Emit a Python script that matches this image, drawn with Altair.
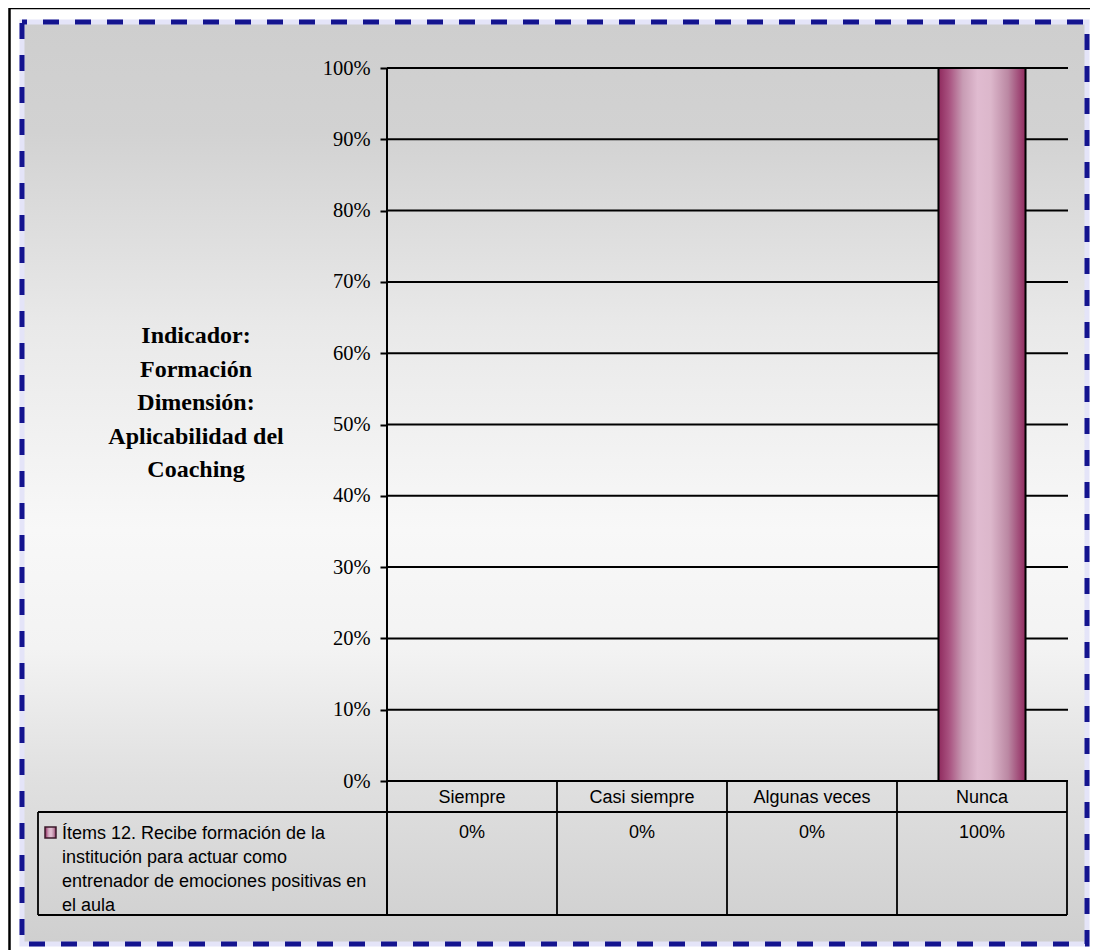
import altair as alt
import pandas as pd

# ---- data ----
categories = ["Siempre", "Casi siempre", "Algunas veces", "Nunca"]
values = [0, 0, 0, 100]
value_labels = ["0%", "0%", "0%", "100%"]
y_ticks = [0, 10, 20, 30, 40, 50, 60, 70, 80, 90, 100]
title_lines = ["Indicador:", "Formación", "Dimensión:", "Aplicabilidad del", "Coaching"]
legend_lines = [
    "Ítems 12. Recibe formación de la",
    "institución para actuar como",
    "entrenador de emociones positivas en",
    "el aula",
]

df = pd.DataFrame({"cat": categories, "pct": [v / 100 for v in values], "label": value_labels})
ticks_df = pd.DataFrame({"t": [t / 100 for t in y_ticks]})
one = pd.DataFrame({"k": [0]})

W, H = 680, 713

bar_grad = {
    "gradient": "linear", "x1": 0, "x2": 1, "y1": 0, "y2": 0,
    "stops": [
        {"offset": 0.0, "color": "#8f2a5e"},
        {"offset": 0.12, "color": "#a8517f"},
        {"offset": 0.28, "color": "#c89cb4"},
        {"offset": 0.45, "color": "#e0bbd0"},
        {"offset": 0.6, "color": "#dcb7cb"},
        {"offset": 0.8, "color": "#bb88a3"},
        {"offset": 0.93, "color": "#a04a77"},
        {"offset": 1.0, "color": "#8f2b5e"},
    ],
}
bg_grad = {
    "gradient": "linear", "x1": 0, "x2": 0, "y1": 0, "y2": 1,
    "stops": [
        {"offset": 0.0, "color": "#cecece"},
        {"offset": 0.12, "color": "#d2d2d2"},
        {"offset": 0.33, "color": "#e9e9e9"},
        {"offset": 0.55, "color": "#f8f8f8"},
        {"offset": 0.68, "color": "#f3f3f3"},
        {"offset": 0.82, "color": "#e0e0e0"},
        {"offset": 1.0, "color": "#cfcfcf"},
    ],
}

x_scale = alt.Scale(domain=categories, paddingInner=0, paddingOuter=0)
y_scale = alt.Scale(domain=[0, 1], nice=False)
y_axis = alt.Axis(
    values=[t / 100 for t in y_ticks], format=".0%", grid=False, domain=False,
    ticks=True, tickColor="black", tickSize=7, tickWidth=2,
    labelFont="Liberation Serif", labelFontSize=20.5, labelColor="black",
    labelPadding=10, title=None, zindex=1, labelOverlap=False,
)


def rect(x, x2, y, y2, **mk):
    return alt.Chart(one).mark_rect(**mk).encode(
        x=alt.value(x), x2=alt.value(x2), y=alt.value(y), y2=alt.value(y2))


def rule(x, x2, y, y2, w=1.8):
    return alt.Chart(one).mark_rule(color="black", strokeWidth=w).encode(
        x=alt.value(x), x2=alt.value(x2), y=alt.value(y), y2=alt.value(y2))


frame = rect(-377.5, 800, -60, 1000, fill=None, fillOpacity=0, stroke="black", strokeWidth=2.5)
background = rect(-365, 700, -46, 876, fill=bg_grad, stroke="#e4e4f8", strokeWidth=5)
dashed = rect(-365, 700, -46, 876, fillOpacity=0, stroke="#14148f", strokeWidth=5,
              strokeDash=[16, 16], strokeDashOffset=11)

grid = alt.Chart(ticks_df).mark_rule(color="black", strokeWidth=2).encode(
    y=alt.Y("t:Q", scale=y_scale, axis=y_axis), x=alt.value(0), x2=alt.value(681))

bars = alt.Chart(df).transform_filter("datum.pct > 0").mark_bar(
    fill=bar_grad, stroke="black", strokeWidth=2, width=alt.RelativeBandSize(0.512)
).encode(
    x=alt.X("cat:N", sort=categories, scale=x_scale, axis=None),
    y=alt.Y("pct:Q", scale=y_scale, axis=y_axis),
)

col_lines = alt.Chart(df).mark_rule(color="black", strokeWidth=1.8).encode(
    x=alt.X("cat:N", sort=categories, scale=x_scale, axis=None, bandPosition=0),
    y=alt.value(713), y2=alt.value(847))

table_lines = [
    rule(0, 0, 0, 847, 2),          # axis line continuing through table
    rule(680, 680, 713, 847),       # right edge
    rule(-349, -349, 744, 847),     # legend cell left edge
    rule(-349, 680, 744, 744),
    rule(-349, 680, 847, 847),
]

header_text = alt.Chart(df).mark_text(
    font="Liberation Sans", fontSize=18, color="black", baseline="alphabetic"
).encode(x=alt.X("cat:N", sort=categories, scale=x_scale, axis=None),
         y=alt.value(735), text="cat:N")

value_text = alt.Chart(df).mark_text(
    font="Liberation Sans", fontSize=18, color="black", baseline="alphabetic"
).encode(x=alt.X("cat:N", sort=categories, scale=x_scale, axis=None),
         y=alt.value(770), text="label:N")

title_text = alt.Chart(one).mark_text(
    text="\n".join(title_lines), lineBreak="\n", font="Liberation Serif", fontSize=24,
    fontWeight="bold", color="black", align="center", baseline="alphabetic", lineHeight=33.5
).encode(x=alt.value(-191), y=alt.value(275))

legend_key = rect(-342, -331, 759, 770, fill=bar_grad, stroke="#3a1a2a", strokeWidth=1.5)

legend_text = alt.Chart(one).mark_text(
    text="\n".join(legend_lines), lineBreak="\n", font="Liberation Sans", fontSize=18,
    color="black", align="left", baseline="alphabetic", lineHeight=24
).encode(x=alt.value(-325), y=alt.value(771))

chart = alt.layer(
    frame, background, dashed, grid, bars, col_lines, *table_lines,
    header_text, value_text, title_text, legend_key, legend_text,
).properties(
    width=W, height=H,
    autosize=alt.AutoSizeParams(type="none"),
    padding={"left": 379, "top": 60, "right": 23, "bottom": 169},
).configure_view(stroke=None)

chart.save("out.html", embed_options={"renderer": "svg", "actions": False})
